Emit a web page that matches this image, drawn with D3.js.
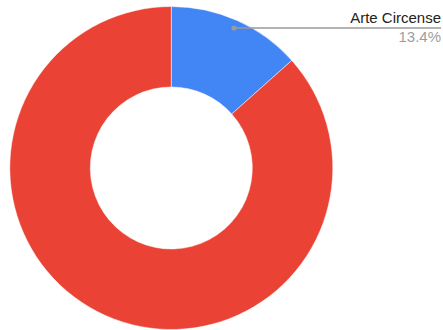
<!DOCTYPE html>
<html>
<head>
<meta charset="utf-8">
<script src="https://cdn.jsdelivr.net/npm/d3@7"></script>
<style>
  html, body { margin: 0; padding: 0; background: #fff; }
  svg { display: block; }
</style>
</head>
<body>
<svg id="chart" width="443" height="330"></svg>
<script>
// Share of each category (percent)
const categories = ["Arte Circense", "Otros"];
const values = [13.4, 86.6];
const colors = ["#4285f4", "#ea4335"];
const labelled = [true, false];

const cx = 171.3, cy = 168;
const outerR = 161.5, innerR = 81;

const svg = d3.select("#chart");
const g = svg.append("g").attr("transform", `translate(${cx},${cy})`);

const pie = d3.pie().sort(null).value(d => d.value);
const arcs = pie(categories.map((c, i) => ({ name: c, value: values[i], color: colors[i], label: labelled[i] })));

const arc = d3.arc().innerRadius(innerR).outerRadius(outerR);

g.selectAll("path.slice")
  .data(arcs)
  .enter().append("path")
  .attr("class", "slice")
  .attr("d", arc)
  .attr("fill", d => d.data.color)
  .attr("stroke", "#fff")
  .attr("stroke-width", 0.5);

// Callout for labelled slices: dot where the slice's mid-angle ray meets the
// leader line, which runs to the right edge under the label
const labelRight = 441;
const lineY = 28;
arcs.filter(d => d.data.label).forEach(d => {
  const mid = (d.startAngle + d.endAngle) / 2;
  const dotX = cx + Math.tan(mid) * (cy - lineY);
  svg.append("line")
    .attr("x1", dotX).attr("y1", lineY)
    .attr("x2", labelRight).attr("y2", lineY)
    .attr("stroke", "#9a9a9a").attr("stroke-width", 1.3);
  svg.append("circle")
    .attr("cx", dotX).attr("cy", lineY).attr("r", 2.6)
    .attr("fill", "#9a9a9a");
  svg.append("text")
    .attr("x", labelRight).attr("y", 23.3)
    .attr("text-anchor", "end")
    .attr("font-family", "Arial, 'Liberation Sans', sans-serif")
    .attr("font-size", 15)
    .attr("fill", "#222")
    .text(d.data.name);
  svg.append("text")
    .attr("x", labelRight).attr("y", 41.7)
    .attr("text-anchor", "end")
    .attr("font-family", "Arial, 'Liberation Sans', sans-serif")
    .attr("font-size", 15)
    .attr("fill", "#9e9e9e")
    .text(d3.format(".1f")(d.data.value) + "%");
});
</script>
</body>
</html>
